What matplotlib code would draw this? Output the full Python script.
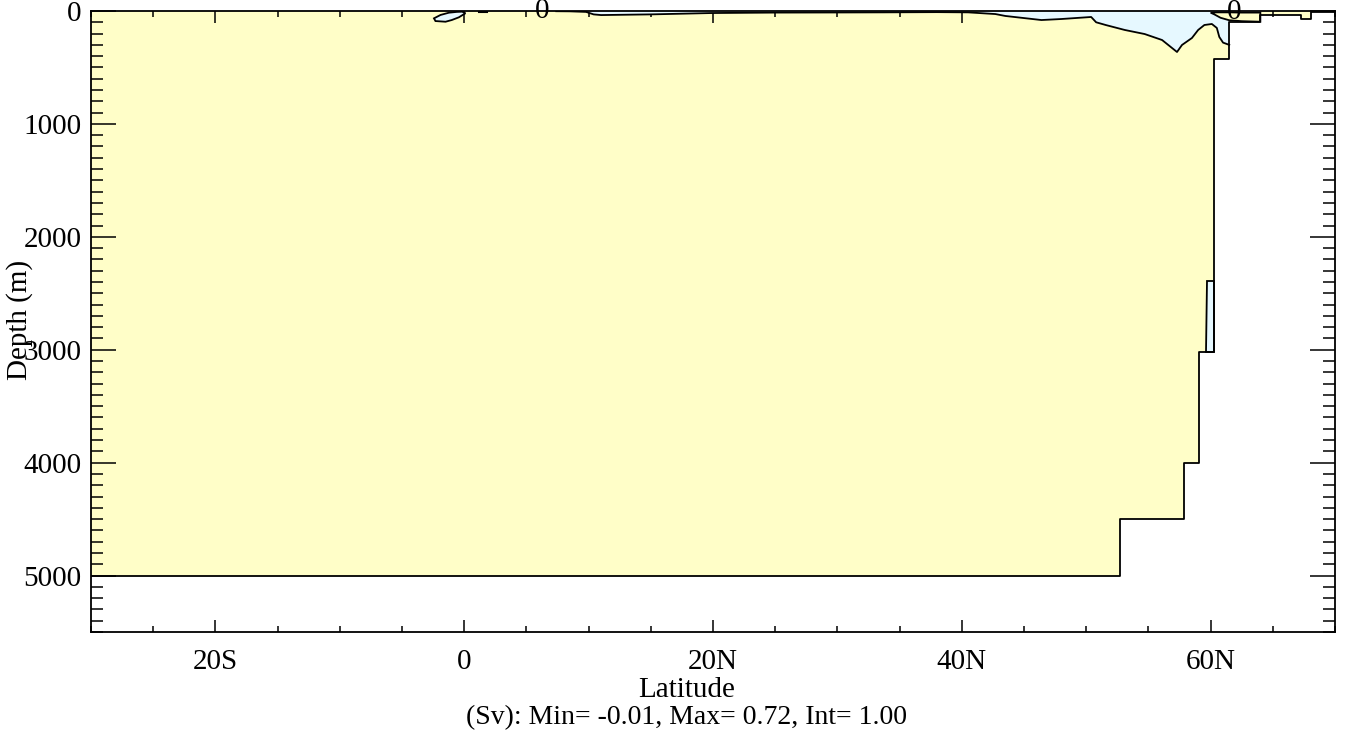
import matplotlib.pyplot as plt
from matplotlib.ticker import MultipleLocator, FuncFormatter

# ocean floor (step profile), lat in degrees, depth in m
bottom_lat = [-30, 52.7, 52.7, 57.9, 57.9, 59.1, 59.1, 60.3, 60.3, 61.5, 61.5,
              64.0, 64.0, 67.3, 67.3, 68.1, 68.1, 70]
bottom_depth = [5000, 5000, 4500, 4500, 4000, 4000, 3020, 3020, 425, 425, 95,
                95, 35, 35, 70, 70, 8, 8]

# zero streamfunction contour, northern branch (negative above it)
zero_lat = [7.4, 8.5, 9.8, 10.4, 11.0, 15.0, 19.9, 25.0, 30.0, 33.6, 38.0, 40.5,
            42.7, 43.5, 46.4, 48.0, 50.4, 50.8, 51.6, 53.1, 54.7, 56.1, 57.3,
            57.7, 58.5, 59.0, 59.5, 60.1, 60.5, 60.7, 61.0, 61.5]
zero_depth = [2, 3, 8, 30, 36, 30, 18, 14, 13, 12, 10, 12,
              27, 44, 80, 71, 53, 100, 125, 168, 204, 257, 363,
              301, 239, 168, 124, 115, 150, 230, 280, 300]

# small negative cell near the equator
eq_lat = [-2.43, -1.9, -1.23, -0.6, -0.16, 0.10, -0.43, -1.0, -1.50, -2.31, -2.43]
eq_depth = [65, 35, 15, 8, 6, 20, 56, 80, 95, 89, 65]

# tiny contour piece north of the equator
dash_lat = [1.2, 1.8]
dash_depth = [6, 6]

# negative sliver against the deep wall
wall_lat = [59.75, 60.3, 60.3, 59.65, 59.75]
wall_depth = [2390, 2390, 3020, 3020, 2390]

# positive lobe near the surface at ~62N
lobe_lat = [60.0, 60.5, 61.5, 62.5, 64.0, 64.0, 62.5, 61.5, 60.8, 60.3, 60.0]
lobe_depth = [15, 12, 12, 14, 14, 95, 90, 82, 60, 30, 15]

# contour labels
label_lat = [6.3, 61.9]
label_depth = [0, 10]

yellow = '#FFFEC8'
blue = '#E6F8FF'

plt.rcParams['font.family'] = ['Liberation Serif', 'DejaVu Serif']

fig = plt.figure(figsize=(13.46, 7.38), dpi=100)
ax = fig.add_axes([91 / 1346, 1 - 632 / 738, 1244 / 1346, 621 / 738])

# ocean area (positive values)
ax.fill_between(bottom_lat, 0, bottom_depth, color=yellow, lw=0, zorder=1)
ax.plot(bottom_lat, bottom_depth, color='black', lw=1.3, zorder=4)

# negative regions
north_lat = zero_lat + [61.5, zero_lat[0]]
north_depth = zero_depth + [0, 0]
ax.fill(north_lat, north_depth, color=blue, lw=0, zorder=2)
ax.plot(zero_lat, zero_depth, color='black', lw=1.3, zorder=4)

ax.fill(eq_lat, eq_depth, facecolor=blue, edgecolor='black', lw=1.3, zorder=3)
ax.plot(dash_lat, dash_depth, color='black', lw=1.5, zorder=4)
ax.fill(wall_lat, wall_depth, facecolor=blue, edgecolor='black', lw=1.3, zorder=3)
ax.fill(lobe_lat, lobe_depth, facecolor=yellow, edgecolor='black', lw=1.3, zorder=3)

for lx, ly in zip(label_lat, label_depth):
    ax.text(lx, ly, '0', fontsize=21, ha='center', va='center',
            clip_on=False, zorder=6)

ax.set_xlim(-30, 70)
ax.set_ylim(5500, 0)


def lat_fmt(v, pos):
    if v < 0:
        return f'{int(-v)}S'
    if v > 0:
        return f'{int(v)}N'
    return '0'


ax.xaxis.set_major_locator(MultipleLocator(20))
ax.xaxis.set_minor_locator(MultipleLocator(5))
ax.xaxis.set_major_formatter(FuncFormatter(lat_fmt))
ax.yaxis.set_major_locator(MultipleLocator(1000))
ax.yaxis.set_minor_locator(MultipleLocator(100))

ax.tick_params(axis='both', which='both', direction='in', top=True, right=True,
               labelsize=21, width=1.1)
ax.tick_params(axis='x', which='major', length=8.6, pad=12)
ax.tick_params(axis='x', which='minor', length=4.3)
ax.tick_params(axis='y', which='major', length=18, pad=7)
ax.tick_params(axis='y', which='minor', length=8.6)
for sp in ax.spines.values():
    sp.set_linewidth(1.3)
    sp.set_zorder(5)

fig.text(20 / 1346, 1 - 320 / 738, 'Depth (m)', fontsize=21, rotation=90,
         ha='center', va='center')
fig.text(687 / 1346, 1 - 690 / 738, 'Latitude', fontsize=21, ha='center', va='center')
fig.text(687 / 1346, 1 - 718 / 738, '(Sv): Min= -0.01, Max= 0.72, Int= 1.00',
         fontsize=20, ha='center', va='center')

fig.savefig('out.png', dpi=100)
